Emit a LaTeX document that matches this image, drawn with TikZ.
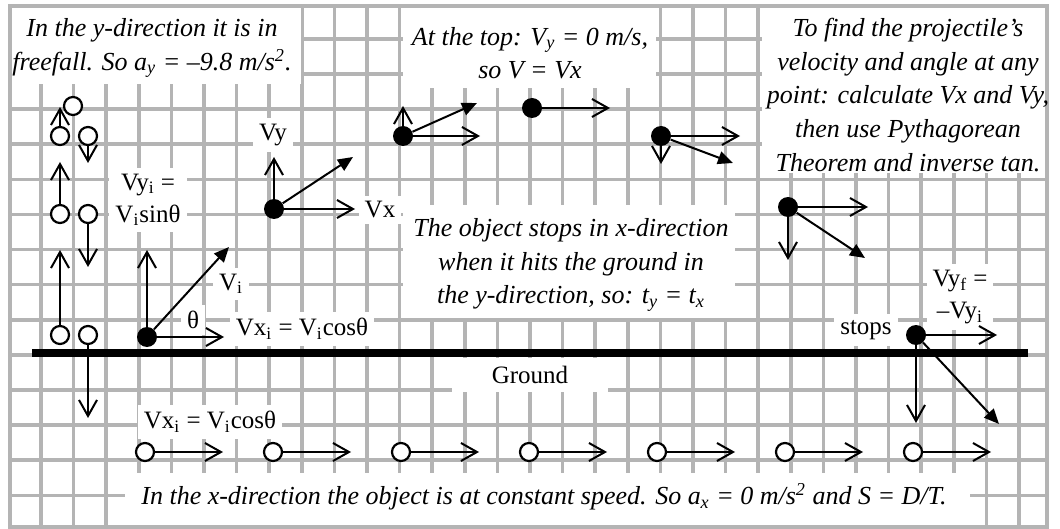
\documentclass[tikz,border=0pt]{standalone}
\usepackage{fontspec}
\setmainfont{Liberation Serif}
\usepackage{xcolor}
\usepackage{tikz}
\usetikzlibrary{arrows.meta}

\definecolor{gridgray}{RGB}{180,180,180}

\begin{document}
\begin{tikzpicture}[x=0.5pt,y=-0.5pt,
  gridline/.style={gridgray,line width=1.8pt},
  vec/.style={line width=1pt,-{Straight Barb[length=8pt,width=9pt,line width=1pt]}},
  res/.style={line width=1pt,-{Triangle[length=7.5pt,width=6.5pt]}},
  ball/.style={circle,draw,fill=white,line width=1.1pt,minimum size=9pt,inner sep=0pt},
  dot/.style={circle,fill=black,minimum size=10pt,inner sep=0pt},
  note/.style={inner sep=0pt,align=center,font=\fontsize{13}{16.8}\selectfont\itshape},
  lbl/.style={fill=white,inner sep=3pt,align=center,font=\fontsize{12.5}{16}\selectfont}]
\useasboundingbox (0,0) rectangle (1060,529);

% grid paper
\foreach \k in {0,...,30}
  \draw[gridline] ({41+32.6*\k},6) -- ({41+32.6*\k},527);
\foreach \k in {0,...,13}
  \draw[gridline] (10,{39+35.1*\k}) -- (1047,{39+35.1*\k});

% white boxes behind the notes
\fill[white] (10,6) rectangle (301,84);
\fill[white] (403,6) rectangle (656,88);
\fill[white] (762,6) rectangle (1047,173);
\fill[white] (403,205) rectangle (735,318);
\fill[white] (125,473) rectangle (970,527);
\draw[gridline] (10,6) rectangle (1047,527);

% notes
\node[note] (freefall) at (152,48) {In the y-direction it is in\\freefall. So a\textsubscript{y} = –9.8 m/s\textsuperscript{2}.};
\node[note] (attop) at (530,53) {At the top: V\textsubscript{y} = 0 m/s,\\so V = Vx};
\node[note] (howto) at (908,95) {To find the projectile’s\\velocity and angle at any\\point: calculate Vx and Vy,\\then use Pythagorean\\Theorem and inverse tan.};
\node[note] (stopx) at (571,265) {The object stops in x-direction\\when it hits the ground in\\the y-direction, so: t\textsubscript{y} = t\textsubscript{x}};
\node[note] (constx) at (544,497) {In the x-direction the object is at constant speed. So a\textsubscript{x} = 0 m/s\textsuperscript{2} and S = D/T.};

% labels
\node[lbl] (vyi) at (148,200) {Vy\textsubscript{i} =\\V\textsubscript{i}sinθ};
\node[lbl] (theta) at (193,320) {θ};
\node[lbl] (vi) at (231,284) {V\textsubscript{i}};
\node[lbl] (vxi) at (302,329) {Vx\textsubscript{i} = V\textsubscript{i}cosθ};
\node[lbl] (vy) at (273,135) {Vy};
\node[lbl] (vx) at (380,210) {Vx};
\node[lbl] (stops) at (866,330) {stops};
\node[lbl] (vyf) at (960,297) {Vy\textsubscript{f} =\\–Vy\textsubscript{i}};
\node[lbl,minimum width=78pt,minimum height=17pt] (ground) at (530,375) {Ground};
\node[lbl] (vxb) at (210,422) {Vx\textsubscript{i} = V\textsubscript{i}cosθ};

% ground
\draw[line width=3.6pt] (32,353) -- (1028,353);

% y-direction only
\node[ball] (a1) at (60,335) {};
\node[ball] (a2) at (60,214) {};
\node[ball] (a3) at (60,136) {};
\node[ball] (b1) at (88,335) {};
\node[ball] (b2) at (88,214) {};
\node[ball] (b3) at (88,136) {};
\node[ball] (apex) at (73,106) {};
\coordinate (a1t) at (60,250);
\coordinate (a2t) at (60,162);
\coordinate (a3t) at (60,107);
\coordinate (b1t) at (88,418);
\coordinate (b2t) at (88,267);
\coordinate (b3t) at (88,163);
\draw[vec] (a1) -- (a1t);
\draw[vec] (a2) -- (a2t);
\draw[vec] (a3) -- (a3t);
\draw[vec] (b1) -- (b1t);
\draw[vec] (b2) -- (b2t);
\draw[vec] (b3) -- (b3t);

% x-direction only
\foreach \k in {0,...,6} {
  \node[ball] (c\k) at ({145+128*\k},452) {};
  \coordinate (c\k t) at ({223+128*\k},452);
  \draw[vec] (c\k) -- (c\k t);
}

% the projectile
\node[dot] (p1) at (147,337) {};
\node[dot] (p2) at (274,209) {};
\node[dot] (p3) at (403,136) {};
\node[dot] (p4) at (532,108) {};
\node[dot] (p5) at (661,136) {};
\node[dot] (p6) at (788,207) {};
\node[dot] (p7) at (916,335) {};

\coordinate (p1u) at (147,250);
\coordinate (p1r) at (224,337);
\coordinate (p1v) at (229,247);
\coordinate (p2u) at (274,157);
\coordinate (p2r) at (355,209);
\coordinate (p2v) at (353,157);
\coordinate (p3u) at (403,106);
\coordinate (p3r) at (480,136);
\coordinate (p3v) at (477,103);
\coordinate (p4r) at (610,108);
\coordinate (p5d) at (661,164);
\coordinate (p5r) at (740,136);
\coordinate (p5v) at (733,163);
\coordinate (p6d) at (788,260);
\coordinate (p6r) at (868,207);
\coordinate (p6v) at (865,258);
\coordinate (p7d) at (916,423);
\coordinate (p7r) at (997,335);
\coordinate (p7v) at (999,424);

\draw[vec] (p1) -- (p1u);
\draw[vec] (p1) -- (p1r);
\draw[res] (p1) -- (p1v);
\draw[vec] (p2) -- (p2u);
\draw[vec] (p2) -- (p2r);
\draw[res] (p2) -- (p2v);
\draw[vec] (p3) -- (p3u);
\draw[vec] (p3) -- (p3r);
\draw[res] (p3) -- (p3v);
\draw[vec] (p4) -- (p4r);
\draw[vec] (p5) -- (p5d);
\draw[vec] (p5) -- (p5r);
\draw[res] (p5) -- (p5v);
\draw[vec] (p6) -- (p6d);
\draw[vec] (p6) -- (p6r);
\draw[res] (p6) -- (p6v);
\draw[vec] (p7) -- (p7d);
\draw[vec] (p7) -- (p7r);
\draw[res] (p7) -- (p7v);
\end{tikzpicture}
\end{document}
